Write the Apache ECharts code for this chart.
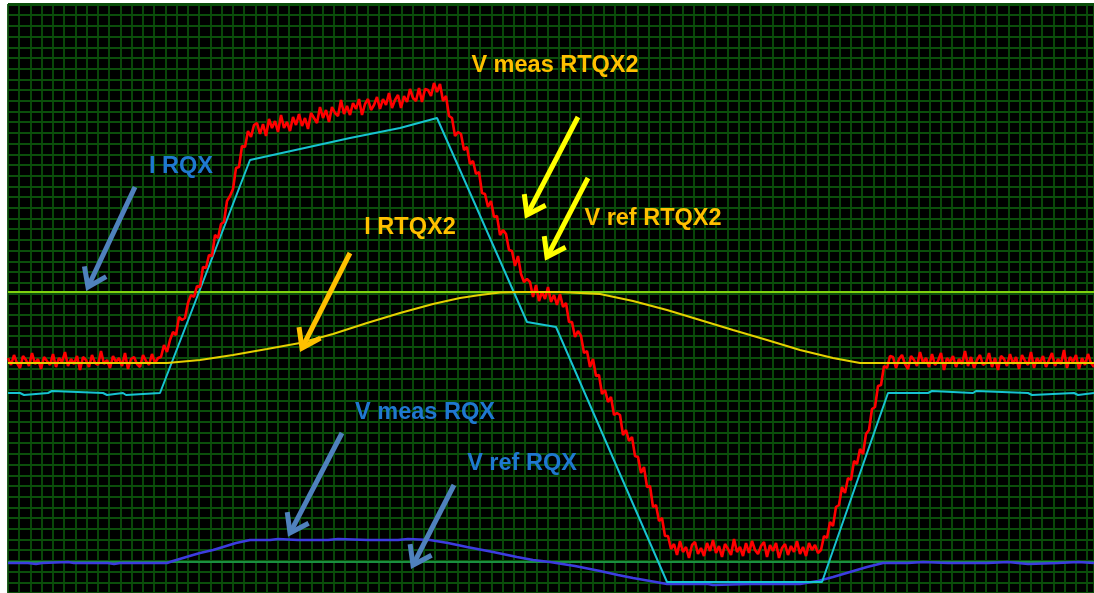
<!DOCTYPE html>
<html><head><meta charset="utf-8">
<script src="https://cdn.jsdelivr.net/npm/echarts@6/dist/echarts.min.js"></script>
<style>html,body{margin:0;padding:0;background:#fff;overflow:hidden}#c{width:1094px;height:593px}</style>
</head><body><div id="c"></div>
<script>
// ---- data (time in samples, amplitude in arbitrary scope units) ----
const redDt = 3; // sample spacing of V meas RTQX2
const vMeasRtqx2 = [
235,228,238,230,225,237,233,227,240,229,234,224,236,232,228,239,226,235,231,241,227,234,229,237,223,236,233,226,238,230,228,242,229,233,225,237,231,235,227,240,224,234,236,229,226,238,232,228,239,230,235,
236,248,241,253,261,258,276,273,275,290,298,296,307,306,326,325,338,337,358,355,369,371,392,397,404,425,426,447,446,462,456,468,
470,459,469,457,474,465,472,461,478,465,471,462,476,468,479,467,475,464,480,475,470,486,475,483,471,486,480,477,493,479,487,478,490,484,494,478,489,494,483,488,496,484,494,488,500,485,493,498,485,497,491,504,495,492,505,491,504,503,497,510,501,
509,492,497,477,475,457,461,459,443,446,429,432,419,421,400,399,386,392,376,377,358,363,359,343,342,327,337,319,311,314,311,296,308,292,301,294,306,291,298,288,299,286,290,271,271,256,262,257,240,242,226,234,217,218,199,203,191,196,178,180,178,158,163,152,156,137,136,120,126,106,107,86,88,72,75,57,57,44,
49,38,52,41,46,35,48,51,39,45,37,50,42,53,40,47,36,49,44,38,54,41,46,37,50,40,52,43,39,47,51,36,48,42,50,35,45,49,38,47,41,52,39,46,37,50,43,48,40,
43,57,55,71,67,86,88,106,100,115,113,132,129,144,139,159,163,184,186,207,208,227,225,237,
236,225,234,238,229,224,237,233,227,241,230,235,226,239,228,232,240,223,235,231,237,226,234,229,242,227,236,225,233,238,228,230,240,226,235,223,237,234,227,239,229,236,224,238,232,228,241,225,235,230,237,226,233,240,227,234,229,243,225,236,231,238,224,235,228,239,230,226
];
const iRqx = [[0,301],[1086,301]];
const iRtqx2 = [[0,230],[159,230],[192,233],[225,238],[259,244],[292,250],[325,259],[359,270],[392,280],[425,289],[452,295],[472,298],[492,300.5],[512,301],[552,301],[572,300],[592,299],[625,292],[659,283],[692,273],[725,263],[759,253],[792,243],[825,235],[852,230],[1086,230]];
const vRefRtqx2 = [[0,200],[12,200],[13,198],[16,198],[17,200],[40,200],[41,202],[44,202],[45,200],[95,200],[96,198],[99,198],[100,200],[115,200],[116,198],[118,198],[119,200],[152,200],[242,433],[292,444],[342,455],[392,465],[429,475],[519,271],[548,266],[659,11],[814,11],[880,200],[920,200],[921,202],[924,202],[925,200],[965,200],[966,202],[968,202],[969,200],[1020,200],[1021,198],[1024,198],[1025,200],[1066,200],[1067,198],[1070,198],[1071,200],[1086,200]];
const vMeasRqx = [[0,30],[20,30],[28,29],[34,30],[60,31],[66,30],[100,30],[106,29],[112,30],[140,30],[159,30],[165,32],[175,35],[185,38],[192,40],[205,43],[215,46],[228,50],[242,53],[262,53],[270,54],[290,53],[320,53],[330,54],[360,53],[390,53],[400,54],[422,53],[440,50],[459,46],[485,41],[509,36],[525,33],[542,31],[567,27],[592,22],[610,18],[625,15],[642,12],[659,9],[700,9],[705,8],[740,9],[792,9],[810,12],[825,16],[842,21],[859,26],[875,30],[900,30],[915,31],[940,30],[980,30],[1000,31],[1020,29],[1050,30],[1070,31],[1086,30]];
const vRefRqx = [[0,31],[30,31],[32,29],[35,31],[90,31],[92,29],[95,31],[150,31],[152,29],[155,31],[210,31],[212,29],[215,31],[270,31],[272,29],[275,31],[330,31],[332,29],[335,31],[390,31],[392,29],[395,31],[450,31],[452,29],[455,31],[560,31],[562,29],[565,31],[700,31],[702,29],[705,31],[760,31],[762,29],[765,31],[930,31],[932,29],[935,31],[1000,31],[1002,29],[1005,31],[1086,31]];
const labelTexts = ['I RQX','V meas RTQX2','V ref RTQX2','I RTQX2','V meas RQX','V ref RQX'];

// ---- annotation layout ----
const BLUE_TXT = '#1f78d0', ORANGE = '#ffc000', STEEL = '#4f81bd', YEL = '#ffff00';
const labelLayout = [
  {at:[173,426], color:BLUE_TXT},
  {at:[547,527], color:ORANGE},
  {at:[645,374], color:ORANGE},
  {at:[402,365], color:ORANGE},
  {at:[417,180], color:BLUE_TXT},
  {at:[514,129], color:BLUE_TXT}
];
const arrowLayout = [
  {from:[127,406], to:[80,306], color:STEEL},
  {from:[570,476], to:[519,378], color:YEL},
  {from:[580,415], to:[539,336], color:YEL},
  {from:[342,340], to:[294,245], color:ORANGE},
  {from:[334,160], to:[282,60], color:STEEL},
  {from:[446,108], to:[405,28], color:STEEL}
];

const redData = vMeasRtqx2.map((v,i)=>[i*redDt, v]);
const lineS = (name, data, color, w, z) => ({
  name, type:'line', data, showSymbol:false, symbol:'none', z,
  lineStyle:{color, width:w}, itemStyle:{color}, animation:false, silent:true
});

const chart = echarts.init(document.getElementById('c'), null, {renderer:'canvas'});
chart.setOption({
  animation:false,
  backgroundColor:'#ffffff',
  grid:{left:8, top:4, right:0, bottom:0, show:true, backgroundColor:'#000000', borderWidth:0},
  xAxis:{type:'value', min:0, max:1086, interval:11.24,
    axisLine:{show:false}, axisTick:{show:false}, axisLabel:{show:false},
    splitLine:{show:true, lineStyle:{color:'#0b4e0b', width:1.8}}},
  yAxis:{type:'value', min:0, max:589, interval:10.7,
    axisLine:{show:false}, axisTick:{show:false}, axisLabel:{show:false},
    splitLine:{show:true, lineStyle:{color:'#0b4e0b', width:1.8}}},
  series:[
    lineS('I RQX', iRqx, '#80d010', 2, 2),
    lineS('V ref RQX', vRefRqx, '#1a9040', 2, 3),
    lineS('V meas RQX', vMeasRqx, '#3c3ce0', 2.5, 4),
    lineS('V ref RTQX2', vRefRtqx2, '#17c3d0', 2, 5),
    lineS('V meas RTQX2', redData, '#ff0000', 2.6, 6),
    lineS('I RTQX2', iRtqx2, '#e5d000', 2, 7),
    {
      type:'custom', z:10, silent:true, clip:false,
      data: arrowLayout.map(a=>[a.from[0],a.from[1],a.to[0],a.to[1]]),
      encode:{x:[0,2], y:[1,3]},
      renderItem:(params, api)=>{
        const a = arrowLayout[params.dataIndex];
        const p1 = api.coord([api.value(0),api.value(1)]);
        const p2 = api.coord([api.value(2),api.value(3)]);
        const dx=p1[0]-p2[0], dy=p1[1]-p2[1], L=Math.hypot(dx,dy), ux=dx/L, uy=dy/L;
        const hl=21, ang=35*Math.PI/180;
        const rot=(t)=>[p2[0]+hl*(ux*Math.cos(t)-uy*Math.sin(t)), p2[1]+hl*(ux*Math.sin(t)+uy*Math.cos(t))];
        const h1=rot(ang), h2=rot(-ang);
        return {type:'group', children:[
          {type:'line', shape:{x1:p1[0],y1:p1[1],x2:p2[0]+ux*3,y2:p2[1]+uy*3}, style:{stroke:a.color, lineWidth:5}},
          {type:'polyline', shape:{points:[h1,p2,h2]}, style:{stroke:a.color, lineWidth:5, fill:null, lineJoin:'miter'}}
        ]};
      }
    },
    {
      type:'custom', z:11, silent:true, clip:false,
      data: labelTexts.map((t,i)=>labelLayout[i].at),
      encode:{x:0, y:1},
      renderItem:(params, api)=>{
        const p = api.coord([api.value(0), api.value(1)]);
        return {type:'text', x:p[0], y:p[1], style:{
          text: labelTexts[params.dataIndex], fill: labelLayout[params.dataIndex].color,
          font: 'bold 23.5px "Liberation Sans", Arial, sans-serif',
          align:'center', verticalAlign:'middle'
        }};
      }
    }
  ]
});
</script></body></html>
